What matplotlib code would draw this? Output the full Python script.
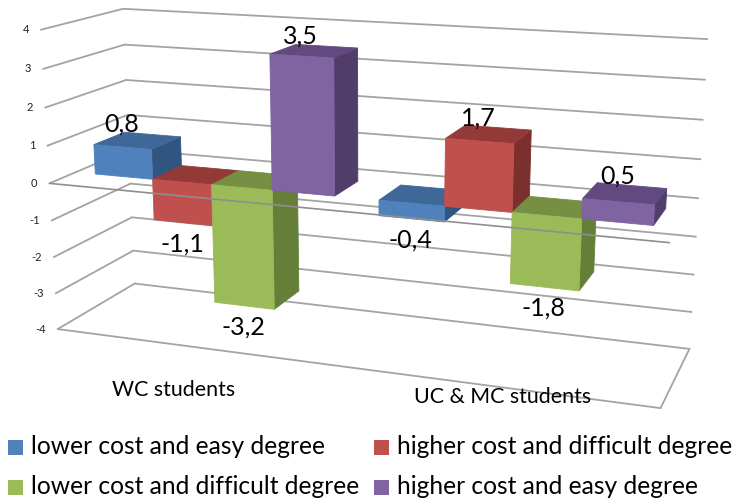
import numpy as np
import matplotlib
matplotlib.use("Agg")
import matplotlib.pyplot as plt
from matplotlib.patches import Polygon, Rectangle

# ---- data ----
categories = ["WC students", "UC & MC students"]
series_names = ["lower cost and easy degree", "higher cost and difficult degree",
                "lower cost and difficult degree", "higher cost and easy degree"]
s_blue = [0.8, -0.4]
s_red = [-1.1, 1.7]
s_green = [-3.2, -1.8]
s_purple = [3.5, 0.5]
value_ticks = [4, 3, 2, 1, 0, -1, -2, -3, -4]
value_labels = ["4", "3", "2", "1", "0", "-1", "-2", "-3", "-4"]
label_text = [["0,8", "-0,4"], ["-1,1", "1,7"], ["-3,2", "-1,8"], ["3,5", "0,5"]]

series = [s_blue, s_red, s_green, s_purple]
front_cols = ["#4F81BD", "#C0504D", "#9BBB59", "#8064A2"]
top_cols = ["#3F6797", "#933A38", "#768F42", "#62497F"]
side_cols = ["#305580", "#7B302E", "#667F38", "#503D69"]

plt.rcParams["font.family"] = ["Lato", "DejaVu Sans"]
fig = plt.figure(figsize=(7.35, 5.01), dpi=100)
ax = fig.add_axes([0, 0, 1, 1])
ax.set_xlim(0, 735); ax.set_ylim(501, 0); ax.axis("off")

# camera: projective map (x across, d depth, z value) -> pixels, from box corners
cal = [(0,0,-4,58,329),(1,0,-4,660,408),(0,1,-4,135,283),(1,1,-4,690,349),
       (0,0,4,40,30),(0,1,4,125,8),(1,1,4,707,39),(1,0,0,670,243),
       (0,0,0,50,183),(1,1,0,698,198),(0,1,0,127,151)]
A = []
for x, d, z, u, v in cal:
    A.append([x,d,z,1,0,0,0,0,-u*x,-u*d,-u*z,-u])
    A.append([0,0,0,0,x,d,z,1,-v*x,-v*d,-v*z,-v])
P = np.linalg.svd(np.array(A))[2][-1].reshape(3, 4)

def proj(x, d, z):
    h = P @ np.array([x, d, z, 1.0])
    return h[0] / h[2], h[1] / h[2]

GRID = "#A3A3A3"
def line3(a, b, zo=1, lw=1.3, c=GRID):
    p, q = proj(*a), proj(*b)
    ax.plot([p[0], q[0]], [p[1], q[1]], color=c, lw=lw, zorder=zo, solid_capstyle="round")

for z, lab in zip(value_ticks, value_labels):
    line3((0, 0, z), (0, 1, z))
    line3((0, 1, z), (1, 1, z))
    u, v = proj(0, 0, z)
    ax.text(u - 12, v, lab, ha="right", va="center", fontsize=8, color="#222222")
line3((0, 0, -4), (1, 0, -4))
line3((1, 0, -4), (1, 1, -4))

# bars
n_s = len(series)
cell = 1 / len(categories)
bw = 0.1065
gap = cell - n_s * bw
d0, d1 = 0.31, 0.70
zo = 2
for c in range(len(categories)):
    for s in range(n_s):
        val = series[s][c]
        x0 = c * cell + gap / 2 + s * bw
        x1 = x0 + bw
        lo, hi = min(0, val), max(0, val)
        side = [proj(x1,d0,lo), proj(x1,d1,lo), proj(x1,d1,hi), proj(x1,d0,hi)]
        top = [proj(x0,d0,hi), proj(x1,d0,hi), proj(x1,d1,hi), proj(x0,d1,hi)]
        front = [proj(x0,d0,lo), proj(x1,d0,lo), proj(x1,d0,hi), proj(x0,d0,hi)]
        for pts, col in ((side, side_cols[s]), (top, top_cols[s]), (front, front_cols[s])):
            ax.add_patch(Polygon(pts, closed=True, fc=col, ec=col, lw=0.6, zorder=zo))
        zo += 1
        xm = (x0 + x1) / 2
        if val >= 0:
            u = proj(xm, d0, hi)[0]
            v = proj(xm, d1, hi)[1]
            ax.text(u - 1, v - 10, label_text[s][c], ha="center", va="center", fontsize=18, color="black", zorder=30)
        else:
            u, v = proj(xm, d0, lo)
            ax.text(u - 1, v + 21, label_text[s][c], ha="center", va="center", fontsize=18, color="black", zorder=30)

# value-zero plane front edge crosses the bars
line3((0, 0, 0), (1, 0, 0), zo=20, lw=1.2, c="#8E8E8E")

# category labels
ax.text(173.5, 390, categories[0], ha="center", va="center", fontsize=15.4, zorder=30)
ax.text(502.5, 397, categories[1], ha="center", va="center", fontsize=15.4, zorder=30)

# legend
leg_x = [8, 374]
leg_y = [447.5, 487.5]
for s, name in enumerate(series_names):
    lx = leg_x[s % 2]; ly = leg_y[s // 2]
    ax.add_patch(Rectangle((lx, ly - 7.5), 15, 15, fc=front_cols[s], ec="none", zorder=30))
    ax.text(lx + 23, ly - 1, name, ha="left", va="center", fontsize=17.7, color="black", zorder=30)

fig.savefig("out.png", dpi=100)
